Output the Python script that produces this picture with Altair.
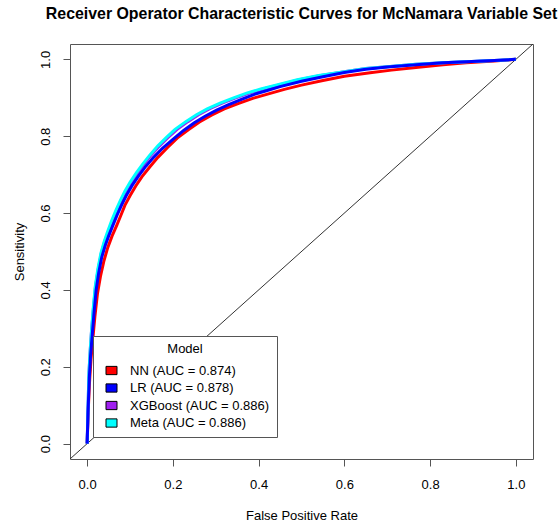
import altair as alt
import pandas as pd

# ---- data ----
models = ["NN", "LR", "XGBoost", "Meta"]
legend_labels = ["NN (AUC = 0.874)", "LR (AUC = 0.878)", "XGBoost (AUC = 0.886)", "Meta (AUC = 0.886)"]
colors = ["#FF0000", "#0000FF", "#A020F0", "#00FFFF"]
draw_order = ["NN", "XGBoost", "Meta", "LR"]

nn_fpr = [0.0, 0.002, 0.005, 0.009, 0.013, 0.018, 0.024, 0.031, 0.039, 0.048, 0.058, 0.069, 0.079, 0.088,
          0.1, 0.113, 0.128, 0.146, 0.165, 0.187, 0.21, 0.236, 0.262, 0.29, 0.32, 0.352, 0.388, 0.425,
          0.46, 0.5, 0.55, 0.6, 0.66, 0.71, 0.767, 0.83, 0.884, 0.95, 1.0]
nn_tpr = [0.0, 0.07, 0.15, 0.22, 0.27, 0.33, 0.39, 0.435, 0.475, 0.51, 0.54, 0.568, 0.595, 0.62,
          0.645, 0.67, 0.695, 0.72, 0.745, 0.77, 0.795, 0.817, 0.837, 0.855, 0.871, 0.885, 0.899, 0.911,
          0.922, 0.933, 0.945, 0.956, 0.965, 0.972, 0.979, 0.986, 0.991, 0.996, 1.0]

lr_fpr = [0.0, 0.002, 0.005, 0.008, 0.0116, 0.016, 0.021, 0.027, 0.034, 0.042, 0.05, 0.06, 0.07, 0.08,
          0.091, 0.105, 0.12, 0.137, 0.155, 0.175, 0.2, 0.225, 0.25, 0.275, 0.302, 0.33, 0.36, 0.39,
          0.42, 0.45, 0.5, 0.55, 0.6, 0.65, 0.7, 0.767, 0.83, 0.884, 0.95, 1.0]
lr_tpr = [0.0, 0.08, 0.17, 0.23, 0.28, 0.34, 0.40, 0.445, 0.485, 0.515, 0.54, 0.568, 0.595, 0.62,
          0.645, 0.672, 0.697, 0.722, 0.745, 0.768, 0.792, 0.815, 0.835, 0.852, 0.868, 0.882, 0.896, 0.909,
          0.919, 0.929, 0.943, 0.955, 0.966, 0.974, 0.98, 0.986, 0.991, 0.994, 0.997, 1.0]

xgb_fpr = [0.0, 0.002, 0.004, 0.007, 0.010, 0.0145, 0.0195, 0.026, 0.033, 0.041, 0.05, 0.059, 0.069, 0.079,
           0.09, 0.103, 0.118, 0.133, 0.15, 0.169, 0.189, 0.21, 0.235, 0.26, 0.285, 0.315, 0.345, 0.378,
           0.41, 0.445, 0.495, 0.545, 0.6, 0.65, 0.7, 0.767, 0.83, 0.884, 0.95, 1.0]
xgb_tpr = [0.0, 0.09, 0.18, 0.24, 0.29, 0.35, 0.41, 0.455, 0.495, 0.527, 0.553, 0.58, 0.607, 0.632,
           0.657, 0.68, 0.705, 0.728, 0.752, 0.775, 0.797, 0.818, 0.838, 0.856, 0.871, 0.886, 0.899, 0.912,
           0.923, 0.933, 0.947, 0.958, 0.968, 0.976, 0.981, 0.987, 0.991, 0.994, 0.997, 1.0]

meta_fpr = [0.0, 0.002, 0.004, 0.007, 0.010, 0.014, 0.019, 0.025, 0.032, 0.04, 0.048, 0.057, 0.067, 0.077,
            0.088, 0.1, 0.115, 0.13, 0.147, 0.165, 0.185, 0.205, 0.23, 0.255, 0.28, 0.31, 0.34, 0.372,
            0.405, 0.44, 0.49, 0.54, 0.6, 0.65, 0.7, 0.767, 0.83, 0.884, 0.95, 1.0]
meta_tpr = [0.0, 0.09, 0.18, 0.24, 0.29, 0.35, 0.41, 0.455, 0.495, 0.527, 0.553, 0.58, 0.607, 0.632,
            0.657, 0.68, 0.705, 0.728, 0.752, 0.775, 0.797, 0.818, 0.838, 0.856, 0.871, 0.886, 0.899, 0.912,
            0.923, 0.933, 0.947, 0.958, 0.968, 0.976, 0.981, 0.987, 0.991, 0.994, 0.997, 1.0]

diag_x = [-0.04, 1.04]
diag_y = [-0.04, 1.04]

tick_values = [0.0, 0.2, 0.4, 0.6, 0.8, 1.0]
axis_domain = [-0.04, 1.04]

# ---- build tables ----
series = {"NN": (nn_fpr, nn_tpr), "LR": (lr_fpr, lr_tpr),
          "XGBoost": (xgb_fpr, xgb_tpr), "Meta": (meta_fpr, meta_tpr)}
label_of = dict(zip(models, legend_labels))
rows = []
for m, (fx, ty) in series.items():
    for i, (a, b) in enumerate(zip(fx, ty)):
        rows.append({"short": m, "entry": label_of[m], "fpr": a, "tpr": b, "i": i})
df = pd.DataFrame(rows)
diag_df = pd.DataFrame({"fpr": diag_x, "tpr": diag_y})

FONT = "Liberation Sans"
FS = 13

xscale = alt.Scale(domain=axis_domain, nice=False, zero=False)
yscale = alt.Scale(domain=axis_domain, nice=False, zero=False)

xaxis = alt.Axis(values=tick_values, format=".1f", title="False Positive Rate", grid=False, domain=False,
                 tickSize=7, tickColor="#555", labelFont=FONT, labelFontSize=FS, labelColor="black",
                 labelBaseline="alphabetic", labelPadding=22, labelFlush=False,
                 titleFont=FONT, titleFontSize=FS, titleFontWeight="normal", titleColor="black",
                 titlePadding=18)
yaxis = alt.Axis(values=tick_values, format=".1f", title="Sensitivity", grid=False, domain=False,
                 tickSize=7, tickColor="#555", labelFont=FONT, labelFontSize=FS, labelColor="black",
                 labelAngle=270, labelAlign="center", labelBaseline="alphabetic", labelPadding=14,
                 labelFlush=False,
                 titleFont=FONT, titleFontSize=FS, titleFontWeight="normal", titleColor="black",
                 titlePadding=13)

diag = alt.Chart(diag_df).mark_line(color="#333333", strokeWidth=1, clip=True).encode(
    x=alt.X("fpr:Q", scale=xscale, axis=xaxis),
    y=alt.Y("tpr:Q", scale=yscale, axis=yaxis),
)

# lines: stroke on the short model name (separate scale, no legend)
stroke_scale = alt.Scale(domain=models, range=colors)
curve_layers = []
for m in draw_order:
    c = alt.Chart(df).transform_filter(alt.datum.short == m).mark_line(
        strokeWidth=3, clip=True).encode(
        x=alt.X("fpr:Q", scale=xscale),
        y=alt.Y("tpr:Q", scale=yscale),
        stroke=alt.Stroke("short:N", scale=stroke_scale, legend=None),
        order=alt.Order("i:Q"),
    )
    curve_layers.append(c)

# legend: filled boxes keyed on the full legend label
legend_layer = alt.Chart(df).mark_square(opacity=0).encode(
    x=alt.X("fpr:Q", scale=xscale),
    y=alt.Y("tpr:Q", scale=yscale),
    fill=alt.Fill("entry:N", scale=alt.Scale(domain=legend_labels, range=colors), sort=legend_labels,
                  legend=alt.Legend(
                      title="Model", orient="none", legendX=23, legendY=292,
                      padding=7, strokeColor="#555", fillColor="white", cornerRadius=0,
                      titleFont=FONT, titleFontSize=FS, titleFontWeight="normal", titleColor="black",
                      titleAnchor="middle", titleAlign="center", titlePadding=8,
                      labelFont=FONT, labelFontSize=FS, labelColor="black", labelOffset=12,
                      labelExpr="datum.label + '\u00a0\u00a0\u00a0\u00a0\u00a0\u00a0'",
                      symbolType="M-1,-0.75H1V0.75H-1Z", symbolSize=121, symbolOpacity=1,
                      symbolStrokeColor="black", symbolStrokeWidth=1, symbolOffset=5,
                      rowPadding=3.5, zindex=1)),
)

chart = alt.layer(diag, *curve_layers, legend_layer).properties(
    width=463, height=415,
    title=alt.TitleParams("Receiver Operator Characteristic Curves for McNamara Variable Set",
                          font=FONT, fontSize=15.9, fontWeight="bold", color="black",
                          anchor="middle", offset=22),
    padding={"left": 70, "top": 44, "right": 27, "bottom": 70},
    autosize=alt.AutoSizeParams(type="none"),
    background="white",
).configure_view(stroke="#555", strokeWidth=1)

chart.save("out.html", embed_options={"renderer": "svg", "actions": False})
